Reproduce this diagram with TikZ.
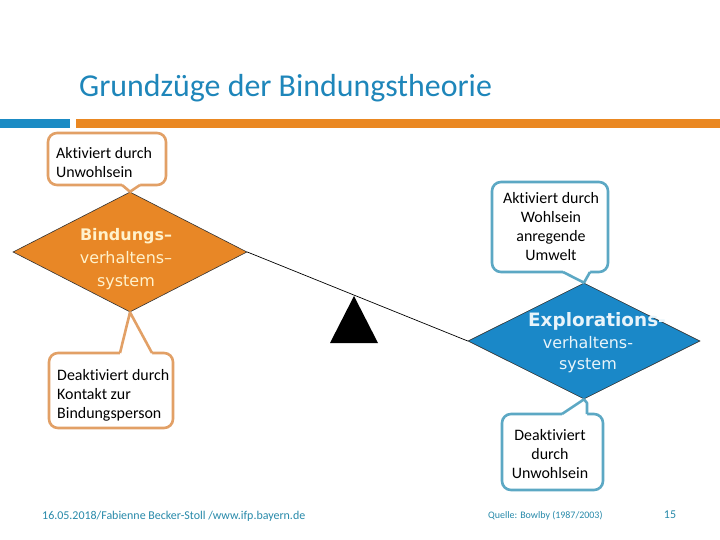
\documentclass[tikz,border=0pt]{standalone}
\usepackage{fontspec}
\setmainfont{Carlito}[Ligatures=NoCommon]
\newfontfamily\dejavu{DejaVu Sans}
\usetikzlibrary{shapes.geometric}
\definecolor{titleblue}{RGB}{30,134,186}
\definecolor{barblue}{RGB}{27,139,196}
\definecolor{barorange}{RGB}{234,136,34}
\definecolor{lfill}{RGB}{232,135,38}
\definecolor{rfill}{RGB}{26,136,200}
\definecolor{obord}{RGB}{226,160,102}
\definecolor{bbord}{RGB}{92,168,196}
\definecolor{footc}{RGB}{40,138,170}
\definecolor{cream}{RGB}{255,242,204}
\definecolor{paleblue}{RGB}{232,244,250}
\tikzset{
  dia/.style={diamond, draw=black!80, line width=0.6bp, inner sep=0pt},
  callbox/.style={rectangle, rounded corners=9bp, line width=2.6bp, fill=white, inner sep=0pt},
  calltext/.style={inner sep=0pt, font=\fontsize{16}{19}\selectfont},
  diatext/.style={font=\dejavu\fontsize{16}{23}\selectfont, align=center, inner sep=0pt},
  foot/.style={text=footc, inner sep=0pt},
}
\begin{document}
\begin{tikzpicture}[x=1bp, y=-1bp]
\useasboundingbox (0,0) rectangle (720,540);
\fill[white] (0,0) rectangle (720,540);
% title and bars
\node[anchor=base west, text=titleblue, font=\fontsize{32}{36}\selectfont, inner sep=0pt] (title) at (79,97) {Grundzüge der Bindungstheorie};
\fill[barblue] (0,119) rectangle (70,128);
\fill[barorange] (76,119) rectangle (720,128);
% diamonds
\node[dia, fill=lfill, minimum width=234bp, minimum height=120bp] (ldia) at (130,252) {};
\node[dia, fill=rfill, minimum width=232bp, minimum height=116bp] (rdia) at (584,341) {};
\node[diatext, text=cream] (ltext) at (126,259.5) {\textbf{Bindungs–}\\verhaltens–\\system};
\node[diatext, text=paleblue, font=\dejavu\fontsize{16}{21.5}\selectfont] (rtext) at (588,343) {\hspace*{18bp}{\fontsize{18.5}{21.5}\selectfont\bfseries Explorations-}\\verhaltens-\\system};
% seesaw
\draw[black, line width=0.7bp] (ldia.east) -- (rdia.west);
\coordinate (pivot) at (354,296);
\fill[black] (330,343) -- (pivot) -- (378,343) -- cycle;
% callouts
\node[callbox, draw=obord, minimum width=118bp, minimum height=52bp] (c1) at (107,159) {};
\node[callbox, draw=obord, minimum width=124bp, minimum height=75bp] (c2) at (111,390.5) {};
\node[callbox, draw=bbord, minimum width=116bp, minimum height=90bp] (c3) at (550,227) {};
\node[callbox, draw=bbord, minimum width=101bp, minimum height=76bp] (c4) at (552.5,452) {};
\node[calltext, anchor=west, align=left] (t1) at (56,162.5) {Aktiviert durch\\Unwohlsein};
\node[calltext, anchor=west, align=left] (t2) at (57,395) {Deaktiviert durch\\Kontakt zur\\Bindungsperson};
\node[calltext, align=center] (t3) at (551,226.5) {Aktiviert durch\\Wohlsein\\anregende\\Umwelt};
\node[calltext, align=center] (t4) at (550,454) {Deaktiviert\\durch\\Unwohlsein};
% pointers
\fill[white] (122,181) -- (122,185) -- (ldia.north) -- (140,185) -- (140,181) -- cycle;
\draw[obord, line width=2.6bp, line join=round] (122,185) -- (ldia.north) -- (140,185);
\fill[white] (120,357) -- (120,353) -- (ldia.south) -- (152,353) -- (152,357) -- cycle;
\draw[obord, line width=2.6bp, line join=round] (120,353) -- (ldia.south) -- (152,353);
\fill[white] (563,268) -- (563,272) -- (rdia.north) -- (590,272) -- (590,268) -- cycle;
\draw[bbord, line width=2.6bp, line join=round] (563,272) -- (rdia.north) -- (590,272);
\fill[white] (562,418) -- (562,414) -- (rdia.south) -- (587,403) -- (587,414) -- (587,418) -- cycle;
\draw[bbord, line width=2.6bp, line join=round] (562,414) -- (rdia.south) -- (587,403) -- (587,414);
% footer
\node[foot, anchor=west, font=\fontsize{12}{14}\selectfont] (f1) at (42,516) {16.05.2018/Fabienne Becker-Stoll /www.ifp.bayern.de};
\node[foot, anchor=west, font=\fontsize{10}{12}\selectfont] (f2) at (488,516) {Quelle: Bowlby (1987/2003)};
\node[foot, anchor=center, font=\fontsize{12}{14}\selectfont] (f3) at (670,515) {15};
\end{tikzpicture}
\end{document}
